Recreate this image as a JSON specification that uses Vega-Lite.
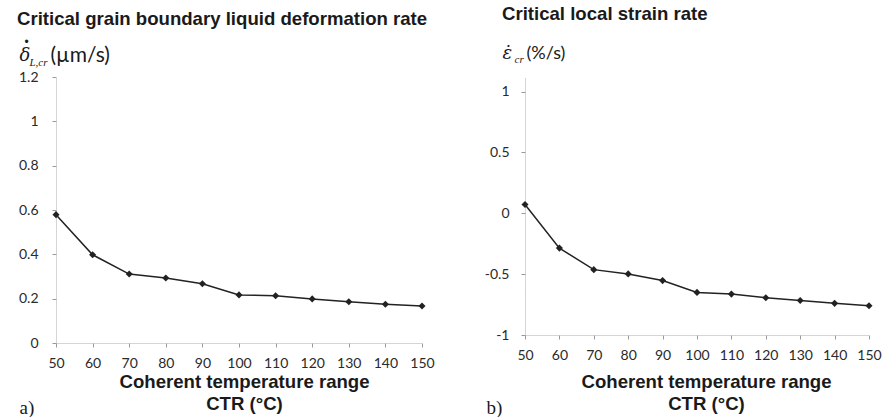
{
  "$schema": "https://vega.github.io/schema/vega-lite/v6.json",
  "background": "white",
  "padding": {"left": 17, "top": 5, "right": 0, "bottom": 0},
  "datasets": {
    "d": [
      {"ctr": 50, "rate": 0.579, "strain": 0.072},
      {"ctr": 60, "rate": 0.398, "strain": -0.286},
      {"ctr": 70, "rate": 0.311, "strain": -0.463},
      {"ctr": 80, "rate": 0.293, "strain": -0.498},
      {"ctr": 90, "rate": 0.267, "strain": -0.553},
      {"ctr": 100, "rate": 0.217, "strain": -0.65},
      {"ctr": 110, "rate": 0.213, "strain": -0.664},
      {"ctr": 120, "rate": 0.199, "strain": -0.694},
      {"ctr": 130, "rate": 0.186, "strain": -0.716},
      {"ctr": 140, "rate": 0.175, "strain": -0.74},
      {"ctr": 150, "rate": 0.167, "strain": -0.76}
    ]
  },
  "data": {"name": "d"},
  "spacing": 49,
  "config": {"view": {"stroke": null}, "axis": {"grid": false, "labelFlush": false, "labelOverlap": false}},
  "hconcat": [
    {
      "width": 366,
      "height": 266,
      "title": {"text": "Critical grain boundary liquid deformation rate", "anchor": "start", "frame": "group", "dx": -39, "offset": 6, "font": "Liberation Sans", "fontSize": 18.6, "fontWeight": "bold", "color": "#1a1a1a"},
      "resolve": {"axis": {"x": "independent", "y": "independent"}},
      "layer": [
        {
          "mark": {"type": "line", "color": "#222", "strokeWidth": 1.5},
          "encoding": {
            "x": {"field": "ctr", "type": "quantitative", "scale": {"domain": [50, 150], "nice": false, "zero": false},
              "axis": {"values": [50, 60, 70, 80, 90, 100, 110, 120, 130, 140, 150], "labelFont": "Lato", "labelFontSize": 14, "labelColor": "#2a2a2a", "labelPadding": 9, "tickSize": 4, "tickColor": "#999", "domainColor": "#aaa", "domainDash": [1, 1],
                "title": ["Coherent temperature range", "CTR (°C)"], "titleFont": "Liberation Sans", "titleFontSize": 18.6, "titleFontWeight": "bold", "titleColor": "#1a1a1a", "titleLineHeight": 22, "titleX": 188, "titleY": 44, "titleBaseline": "alphabetic", "titleAlign": "center"}},
            "y": {"field": "rate", "type": "quantitative", "scale": {"domain": [0, 1.2], "nice": false},
              "axis": {"values": [0, 0.2, 0.4, 0.6, 0.8, 1, 1.2], "labelExpr": "'' + datum.value", "labelFont": "Lato", "labelFontSize": 14, "labelColor": "#2a2a2a", "labelPadding": 14, "tickSize": 4, "tickColor": "#999", "domainColor": "#aaa", "domainDash": [1, 1],
                "title": "δ", "titleFont": "DejaVu Serif", "titleFontStyle": "italic", "titleFontWeight": "normal", "titleFontSize": 18, "titleColor": "#1a1a1a", "titleAngle": 0, "titleAlign": "left", "titleBaseline": "alphabetic", "titleX": -37, "titleY": -17}}
          }
        },
        {
          "mark": {"type": "point", "shape": "diamond", "filled": true, "color": "#222", "size": 50, "opacity": 1},
          "encoding": {
            "x": {"field": "ctr", "type": "quantitative", "scale": {"domain": [50, 150], "nice": false, "zero": false}, "axis": null},
            "y": {"field": "rate", "type": "quantitative", "scale": {"domain": [0, 1.2], "nice": false},
              "axis": {"orient": "left", "labels": false, "ticks": false, "domain": false, "title": "•", "titleFont": "Liberation Sans", "titleFontWeight": "normal", "titleFontSize": 12, "titleColor": "#1a1a1a", "titleAngle": 0, "titleAlign": "center", "titleBaseline": "middle", "titleX": -30, "titleY": -36}}
          }
        },
        {
          "mark": {"type": "point", "opacity": 0},
          "encoding": {
            "x": {"field": "ctr", "type": "quantitative", "scale": {"domain": [50, 150], "nice": false, "zero": false},
              "axis": {"orient": "bottom", "labels": false, "ticks": false, "domain": false, "title": "a)", "titleFont": "Liberation Serif", "titleFontSize": 19, "titleFontWeight": "normal", "titleColor": "#1a1a1a", "titleX": -37, "titleY": 70, "titleAlign": "left", "titleBaseline": "alphabetic"}},
            "y": {"field": "rate", "type": "quantitative", "scale": {"domain": [0, 1.2], "nice": false},
              "axis": {"orient": "left", "labels": false, "ticks": false, "domain": false, "title": "L,cr", "titleFont": "Liberation Serif", "titleFontStyle": "italic", "titleFontWeight": "normal", "titleFontSize": 11, "titleColor": "#1a1a1a", "titleAngle": 0, "titleAlign": "left", "titleBaseline": "alphabetic", "titleX": -27, "titleY": -12}}
          }
        },
        {
          "mark": {"type": "point", "opacity": 0},
          "encoding": {
            "x": {"field": "ctr", "type": "quantitative", "scale": {"domain": [50, 150], "nice": false, "zero": false}, "axis": null},
            "y": {"field": "rate", "type": "quantitative", "scale": {"domain": [0, 1.2], "nice": false},
              "axis": {"orient": "left", "labels": false, "ticks": false, "domain": false, "title": "(µm/s)", "titleFont": "Lato", "titleFontWeight": "normal", "titleFontSize": 21, "titleColor": "#1a1a1a", "titleAngle": 0, "titleAlign": "left", "titleBaseline": "alphabetic", "titleX": -6, "titleY": -16}}
          }
        }
      ]
    },
    {
      "width": 344,
      "height": 258,
      "title": {"text": "Critical local strain rate", "anchor": "start", "frame": "group", "dx": -23, "offset": 20, "font": "Liberation Sans", "fontSize": 18.6, "fontWeight": "bold", "color": "#1a1a1a"},
      "resolve": {"axis": {"x": "independent", "y": "independent"}},
      "layer": [
        {
          "mark": {"type": "line", "color": "#222", "strokeWidth": 1.5},
          "encoding": {
            "x": {"field": "ctr", "type": "quantitative", "scale": {"domain": [50, 150], "nice": false, "zero": false},
              "axis": {"values": [50, 60, 70, 80, 90, 100, 110, 120, 130, 140, 150], "labelFont": "Lato", "labelFontSize": 14, "labelColor": "#2a2a2a", "labelPadding": 9, "tickSize": 4, "tickColor": "#999", "domainColor": "#aaa", "domainDash": [1, 1],
                "title": ["Coherent temperature range", "CTR (°C)"], "titleFont": "Liberation Sans", "titleFontSize": 18.6, "titleFontWeight": "bold", "titleColor": "#1a1a1a", "titleLineHeight": 22, "titleX": 181, "titleY": 52, "titleBaseline": "alphabetic", "titleAlign": "center"}},
            "y": {"field": "strain", "type": "quantitative", "scale": {"domain": [-1, 1.12], "nice": false, "zero": false},
              "axis": {"values": [-1, -0.5, 0, 0.5, 1], "labelExpr": "'' + datum.value", "labelFont": "Lato", "labelFontSize": 14, "labelColor": "#2a2a2a", "labelPadding": 12, "tickSize": 4, "tickColor": "#999", "domainColor": "#aaa", "domainDash": [1, 1],
                "title": "ε̇", "titleFont": "DejaVu Serif", "titleFontStyle": "italic", "titleFontWeight": "normal", "titleFontSize": 18, "titleColor": "#1a1a1a", "titleAngle": 0, "titleAlign": "left", "titleBaseline": "alphabetic", "titleX": -23, "titleY": -19}}
          }
        },
        {
          "mark": {"type": "point", "shape": "diamond", "filled": true, "color": "#222", "size": 50, "opacity": 1},
          "encoding": {
            "x": {"field": "ctr", "type": "quantitative", "scale": {"domain": [50, 150], "nice": false, "zero": false}, "axis": null},
            "y": {"field": "strain", "type": "quantitative", "scale": {"domain": [-1, 1.12], "nice": false, "zero": false}, "axis": null}
          }
        },
        {
          "mark": {"type": "point", "opacity": 0},
          "encoding": {
            "x": {"field": "ctr", "type": "quantitative", "scale": {"domain": [50, 150], "nice": false, "zero": false},
              "axis": {"orient": "bottom", "labels": false, "ticks": false, "domain": false, "title": "b)", "titleFont": "Liberation Serif", "titleFontSize": 19, "titleFontWeight": "normal", "titleColor": "#1a1a1a", "titleX": -39, "titleY": 78, "titleAlign": "left", "titleBaseline": "alphabetic"}},
            "y": {"field": "strain", "type": "quantitative", "scale": {"domain": [-1, 1.12], "nice": false, "zero": false},
              "axis": {"orient": "left", "labels": false, "ticks": false, "domain": false, "title": "cr", "titleFont": "Liberation Serif", "titleFontStyle": "italic", "titleFontWeight": "normal", "titleFontSize": 11, "titleColor": "#1a1a1a", "titleAngle": 0, "titleAlign": "left", "titleBaseline": "alphabetic", "titleX": -11, "titleY": -15}}
          }
        },
        {
          "mark": {"type": "point", "opacity": 0},
          "encoding": {
            "x": {"field": "ctr", "type": "quantitative", "scale": {"domain": [50, 150], "nice": false, "zero": false}, "axis": null},
            "y": {"field": "strain", "type": "quantitative", "scale": {"domain": [-1, 1.12], "nice": false, "zero": false},
              "axis": {"orient": "left", "labels": false, "ticks": false, "domain": false, "title": "(%/s)", "titleFont": "Lato", "titleFontWeight": "normal", "titleFontSize": 18, "titleColor": "#1a1a1a", "titleAngle": 0, "titleAlign": "left", "titleBaseline": "alphabetic", "titleX": 1, "titleY": -19}}
          }
        }
      ]
    }
  ]
}
